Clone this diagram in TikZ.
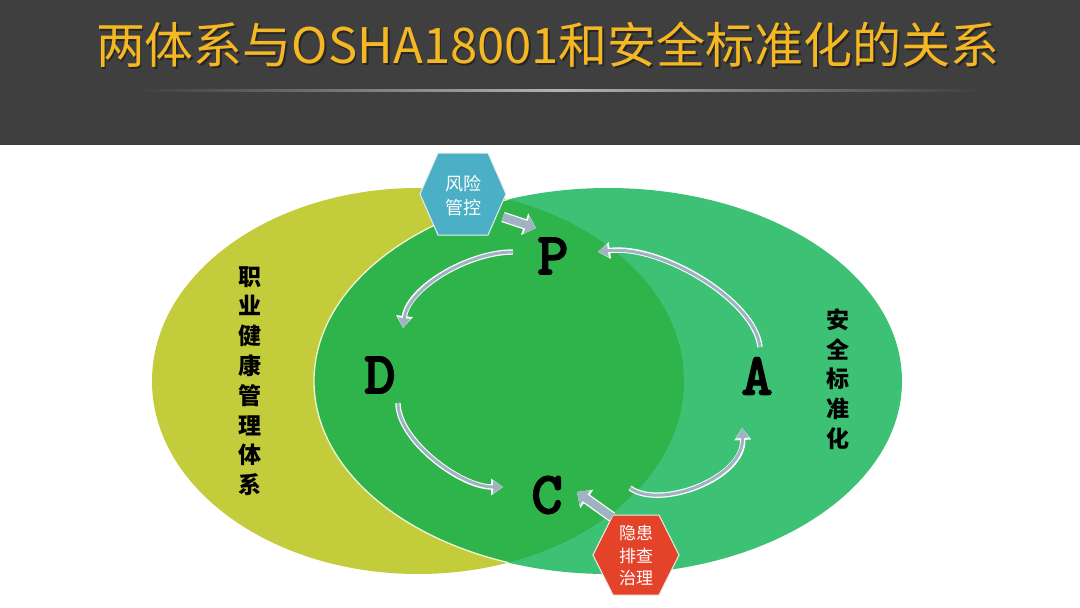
\documentclass[tikz,border=0pt]{standalone}
\usepackage{fontspec}
\newfontfamily\cjk{Noto Sans CJK SC}
\newfontfamily\pdcafont{lmmonolt10-bold}[Extension=.otf, FakeBold=2]
\usetikzlibrary{arrows.meta,calc}
\definecolor{bar}{HTML}{3F3F3F}
\definecolor{titlec}{HTML}{F5B722}
\definecolor{yg}{HTML}{C3CC3B}
\definecolor{gmid}{HTML}{2EB44B}
\definecolor{gright}{HTML}{3DC174}
\definecolor{hexblue}{HTML}{4BAFC6}
\definecolor{hexred}{HTML}{E4432A}
\definecolor{arrg}{HTML}{9FB3C2}
\definecolor{edgec}{HTML}{F2F7D8}
\begin{document}
\begin{tikzpicture}[x=1pt,y=-1pt,
  letter/.style={font=\pdcafont\fontsize{60}{60}\selectfont, inner sep=0pt, text=black},
  hext/.style={text=white, align=center, inner sep=0pt, font=\cjk\fontsize{18}{24}\selectfont},
  vtext/.style={text=black, align=center, inner sep=0pt, font=\cjk\bfseries\fontsize{23}{29.8}\selectfont},
  cyc/.style={line width=3pt, draw=arrg, -{Triangle[length=10pt,width=12pt]},
    preaction={draw=white, line width=5.4pt, -{Triangle[length=12pt,width=16pt]}}},
  blk/.style={line width=8pt, draw=arrg, -{Triangle[length=10pt,width=18pt]},
    preaction={draw=white, line width=10.5pt, -{Triangle[length=12pt,width=22pt]}}},
  hexpath/.style={line width=1pt, draw=white!85!gray}
]
\useasboundingbox (0,0) rectangle (1080,608);
\fill[white] (0,0) rectangle (1080,608);
% title bar
\fill[bar] (0,0) rectangle (1080,145);
\shade[left color=bar,right color=bar,middle color=gray!60] (138,89.3) rectangle (980,91);
\node[text=black!85, font=\cjk\fontsize{49}{49}\selectfont, inner sep=0pt] (titlesh) at (549.5,46.5) {两体系与OSHA18001和安全标准化的关系};
\node[text=titlec, font=\cjk\fontsize{49}{49}\selectfont, inner sep=0pt] (title) at (548,45) {两体系与OSHA18001和安全标准化的关系};
% ellipses
\fill[yg] (418,381) ellipse [x radius=266pt, y radius=193pt];
\fill[gright] (608,381) ellipse [x radius=294pt, y radius=193pt];
\begin{scope}
  \clip (418,381) ellipse [x radius=266pt, y radius=193pt];
  \fill[gmid] (608,381) ellipse [x radius=294pt, y radius=193pt];
  \draw[edgec, line width=1.3pt] (608,381) ellipse [x radius=294pt, y radius=193pt];
\end{scope}
% vertical labels
\node[vtext] (leftlab) at (250,381) {职\\业\\健\\康\\管\\理\\体\\系};
\node[vtext] (rightlab) at (838,379) {安\\全\\标\\准\\化};
% PDCA letters
\node[letter] (P) at (553,256) {P};
\node[letter] (D) at (380,375) {D};
\node[letter] (A) at (757,376) {A};
\node[letter] (C) at (547,495) {C};
% hexagons
\coordinate (hr) at (463,194);
\filldraw[hexpath, fill=hexblue] (hr) ++(-43,0) -- ++(18,-41) -- ++(50,0) -- ++(18,41) -- ++(-18,41) -- ++(-50,0) -- cycle;
\node[hext] (hexR) at (463,195.5) {风险\\管控};
\coordinate (hb) at (636,555);
\filldraw[hexpath, fill=hexred] (hb) ++(-43,0) -- ++(20,-40) -- ++(46,0) -- ++(20,40) -- ++(-20,40) -- ++(-46,0) -- cycle;
\node[hext, font=\cjk\fontsize{17}{22.5}\selectfont] (hexB) at (636,556) {隐患\\排查\\治理};
% cycle arrows
\draw[cyc] ($(P)+(-40,-4)$) .. controls +(-45,0) and +(5,-40) .. ($(D)+(23,-47)$);
\draw[cyc] ($(D)+(18,28)$) .. controls +(0,37) and +(-43,0) .. ($(C)+(-44,-8)$);
\draw[cyc] ($(C)+(83,-7)$) .. controls +(30,22) and +(3,50) .. ($(A)+(-15,52)$);
\draw[cyc] ($(A)+(3,-29)$) .. controls +(-5,-47) and +(62,-8) .. ($(P)+(45,-4)$);
% input arrows
\draw[blk] ($(hexR)+(40,21.5)$) -- ($(P)+(-17,-28)$);
\draw[blk] ($(hexB)+(-24,-39)$) -- ($(C)+(30,-3)$);
\end{tikzpicture}
\end{document}
